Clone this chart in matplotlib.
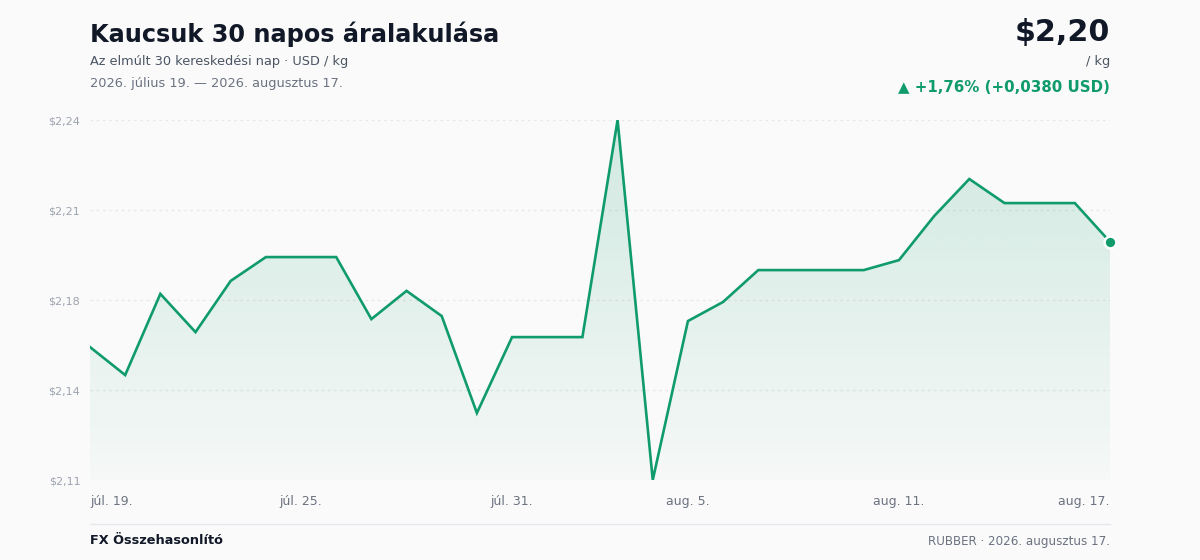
import matplotlib
matplotlib.use("Agg")
import matplotlib.pyplot as plt
import numpy as np
import pandas as pd
from matplotlib.colors import to_rgb

# ---- data ----
dates = pd.date_range("2026-07-19", periods=30, freq="D")
prices = [2.158, 2.1479, 2.1772, 2.1634, 2.1819, 2.1905, 2.1905, 2.1905, 2.1681, 2.1783,
          2.1692, 2.1342, 2.1616, 2.1616, 2.1616, 2.2400, 2.1100, 2.1674, 2.1743, 2.1858,
          2.1858, 2.1858, 2.1858, 2.1894, 2.2053, 2.2187, 2.2100, 2.2100, 2.2100, 2.1960]
tick_idx = [0, 6, 12, 17, 23, 29]
tick_labels = ["júl. 19.", "júl. 25.", "júl. 31.", "aug. 5.", "aug. 11.", "aug. 17."]

title = "Kaucsuk 30 napos áralakulása"
subtitle = "Az elmúlt 30 kereskedési nap · USD / kg"
date_range_text = "2026. július 19. — 2026. augusztus 17."
price_text = "$2,20"
unit_text = "/ kg"
change_text = "▲ +1,76% (+0,0380 USD)"
footer_left = "FX Összehasonlító"
footer_right = "RUBBER · 2026. augusztus 17."

# ---- style ----
BG = "#fafafa"
GREEN = "#109b6b"
DARK = "#111827"
GRAY = "#4b5563"
GRAY2 = "#6b7280"
GRAY3 = "#9ca3af"

plt.rcParams["font.family"] = ["DejaVu Sans"]

W, H = 1200, 560
fig = plt.figure(figsize=(W / 100, H / 100), dpi=100, facecolor=BG)

def fx(px):
    return px / W

def fy(py):
    return 1 - py / H

ax = fig.add_axes([fx(90), fy(480), fx(1110) - fx(90), fy(120) - fy(480)])
ax.set_facecolor(BG)

x = np.arange(len(prices))
y = np.array(prices)
ymin, ymax = y.min(), y.max()
ax.set_xlim(0, len(prices) - 1)
ax.set_ylim(ymin, ymax)

# gradient fill
rgb = to_rgb(GREEN)
n = 256
alphas = np.linspace(0.18, 0.02, n)[:, None]
grad = np.zeros((n, 1, 4))
grad[..., 0], grad[..., 1], grad[..., 2] = rgb
grad[..., 3] = alphas
poly = ax.fill_between(x, y, ymin, color="none", lw=0)
im = ax.imshow(grad, aspect="auto", extent=[0, len(prices) - 1, ymin, ymax],
               origin="upper", zorder=1)
paths = poly.get_paths()
im.set_clip_path(paths[0], transform=ax.transData)

ax.plot(x, y, color=GREEN, lw=1.9, zorder=3, solid_joinstyle="miter")
ax.plot(x[-1], y[-1], "o", color=GREEN, ms=8.5, mec="white", mew=1.8, zorder=4, clip_on=False)

# grid
yt = np.linspace(ymin, ymax, 5)
ax.set_yticks(yt)
ax.set_yticklabels(["$" + f"{round(v + 1e-9, 2):.2f}".replace(".", ",") for v in yt])
for v in yt:
    ax.axhline(v, color="#e5e7eb", lw=0.9, ls=(0, (2, 3)), zorder=0.5)

ax.set_xticks(tick_idx)
ax.set_xticklabels(tick_labels)
labs = ax.get_xticklabels()
labs[0].set_ha("left")
labs[-1].set_ha("right")

ax.tick_params(axis="y", length=0, pad=7, labelsize=8, labelcolor=GRAY3)
ax.tick_params(axis="x", length=0, pad=11, labelsize=9, labelcolor=GRAY2)
for s in ax.spines.values():
    s.set_visible(False)

# header
fig.text(fx(90), fy(34), title, fontsize=17.3, fontweight="bold", color=DARK, va="center", ha="left")
fig.text(fx(90), fy(61), subtitle, fontsize=9.3, color=GRAY, va="center", ha="left")
fig.text(fx(90), fy(83), date_range_text, fontsize=9.3, color=GRAY2, va="center", ha="left")
fig.text(fx(1110), fy(32), price_text, fontsize=21.7, fontweight="bold", color=DARK, va="center", ha="right")
fig.text(fx(1110), fy(61), unit_text, fontsize=9.3, color=GRAY, va="center", ha="right")
fig.text(fx(1110), fy(87), change_text, fontsize=10.8, fontweight="bold", color=GREEN, va="center", ha="right")

# footer
fig.add_artist(plt.Line2D([fx(90), fx(1110)], [fy(524), fy(524)], color="#e5e7eb", lw=1))
fig.text(fx(90), fy(541), footer_left, fontsize=9.3, fontweight="bold", color=DARK, va="center", ha="left")
fig.text(fx(1110), fy(541), footer_right, fontsize=8.6, color=GRAY2, va="center", ha="right")

fig.savefig("out.png", dpi=100, facecolor=BG)
